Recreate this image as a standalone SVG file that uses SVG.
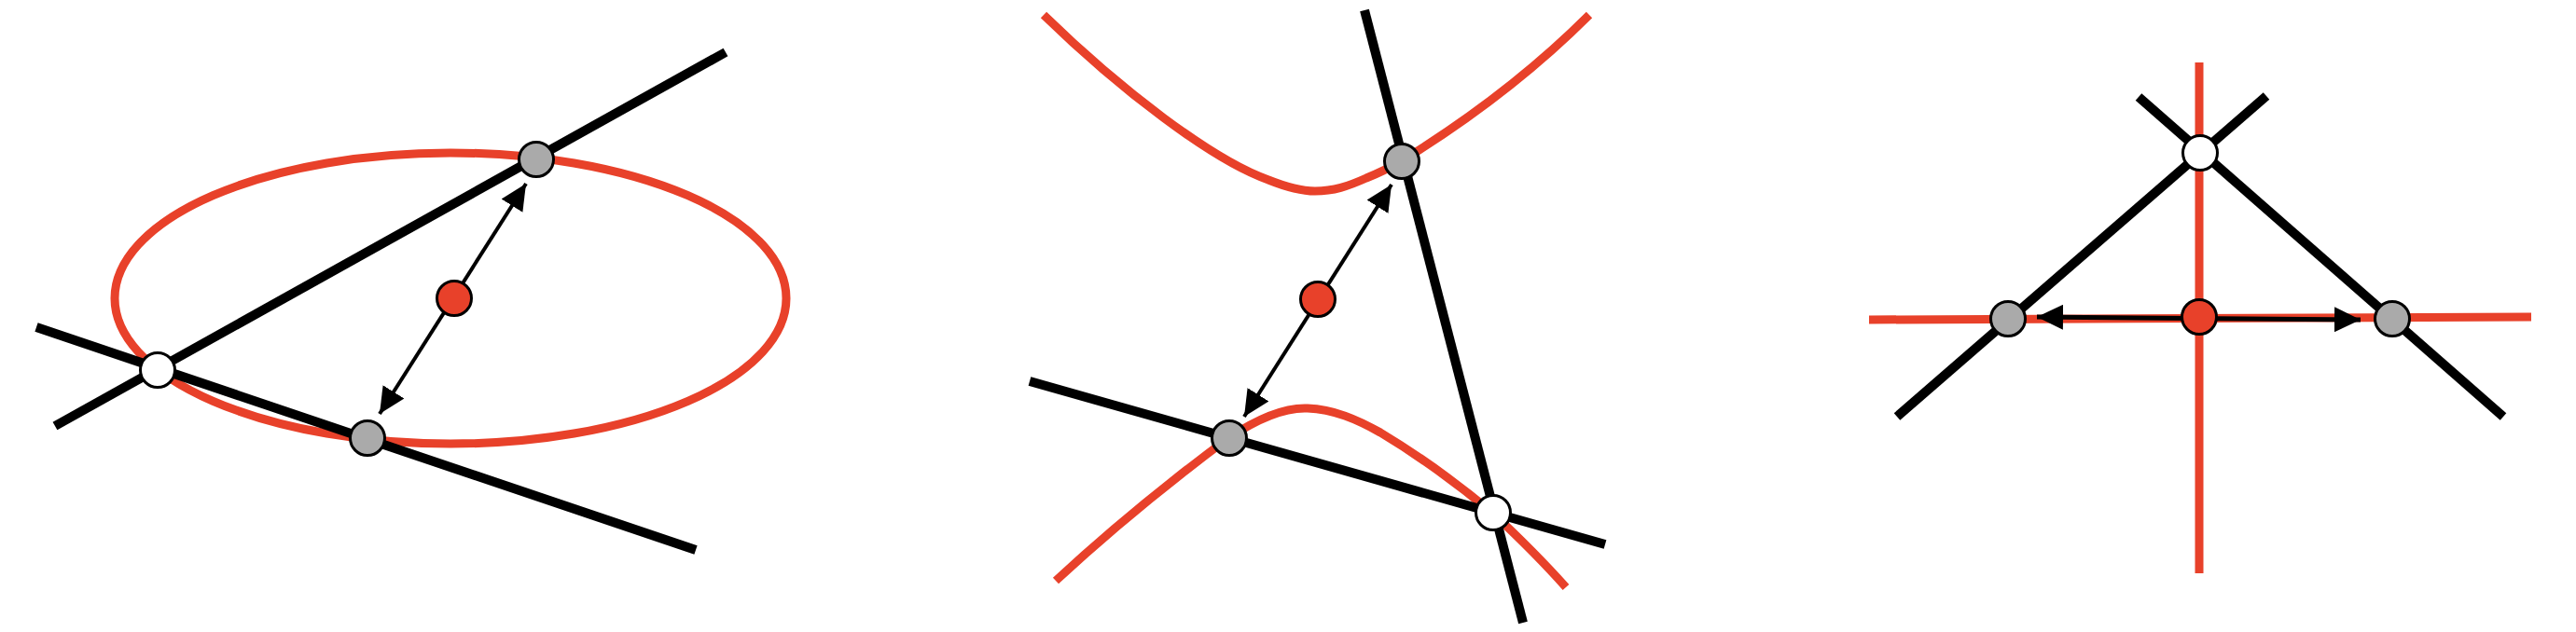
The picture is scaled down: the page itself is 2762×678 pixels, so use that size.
<svg xmlns="http://www.w3.org/2000/svg" width="2762" height="678" viewBox="0 0 2762 678">
<style>
.curve{fill:none;stroke:#E8412A;stroke-width:9}
.line{fill:none;stroke:#000;stroke-width:10;stroke-linecap:butt}
.arrow{fill:none;stroke:#000;stroke-width:4}
.arrow3{fill:none;stroke:#000;stroke-width:5}
.node{stroke:#000;stroke-width:3}
.white{fill:#fff}
.gray{fill:#aaa}
.red{fill:#E8412A}
</style>
<defs>
<marker id="ah" markerUnits="userSpaceOnUse" markerWidth="28" markerHeight="27" refX="28" refY="13.5" orient="auto-start-reverse" viewBox="0 0 28 27">
<path d="M0,0 L28,13.5 L0,27 z" fill="#000"/>
</marker>
</defs>
<rect width="2762" height="678" fill="#fff"/>
<g id="curves">
<ellipse id="conic1" class="curve" cx="483" cy="320" rx="360" ry="156"/>
<path id="conic2a" class="curve" d="M1119,16 C1200,95 1300,172 1360,193 C1380,201 1395,205 1410,205 C1430,205 1445,200 1465,191 C1480,185 1490,180 1504,172 C1580,125 1650,70 1704,16"/>
<path id="conic2b" class="curve" d="M1132,623 C1200,560 1270,505 1317,470 C1350,448 1380,437 1402,438 C1430,439 1455,450 1480,464 C1530,494 1570,525 1600,550 C1630,578 1655,603 1679,630"/>
<line id="conic3v" class="curve" x1="2358" y1="67" x2="2358" y2="615" stroke-width="10"/>
<line id="conic3h" class="curve" x1="2004" y1="343" x2="2714" y2="340" stroke-width="10"/>
</g>
<g id="connectors">
<line class="line" x1="59" y1="457" x2="778" y2="56"/>
<line class="line" x1="39" y1="351" x2="746" y2="590"/>
<line class="line" x1="1463" y1="11" x2="1633" y2="668" stroke-width="9.5"/>
<line class="line" x1="1104" y1="409" x2="1721" y2="584"/>
<line class="line" x1="2034" y1="447" x2="2430" y2="103"/>
<line class="line" x1="2293" y1="104" x2="2684" y2="447"/>
<line class="arrow" x1="407" y1="444" x2="564" y2="197" marker-start="url(#ah)" marker-end="url(#ah)"/>
<line class="arrow" x1="1334" y1="447" x2="1492" y2="198" marker-start="url(#ah)" marker-end="url(#ah)"/>
<line class="arrow3" x1="2184" y1="340" x2="2531" y2="343" marker-start="url(#ah)" marker-end="url(#ah)"/>
</g>
<g id="p1-white"><circle class="node white" cx="169" cy="397" r="18.5"/></g>
<g id="p1-gray-top"><circle class="node gray" cx="575" cy="171" r="18.5"/></g>
<g id="p1-gray-bottom"><circle class="node gray" cx="394" cy="470" r="18.5"/></g>
<g id="p1-red"><circle class="node red" cx="487" cy="320" r="18.5"/></g>
<g id="p2-white"><circle class="node white" cx="1601" cy="550" r="18.5"/></g>
<g id="p2-gray-top"><circle class="node gray" cx="1503" cy="173" r="18.5"/></g>
<g id="p2-gray-bottom"><circle class="node gray" cx="1318" cy="470" r="18.5"/></g>
<g id="p2-red"><circle class="node red" cx="1413" cy="321" r="18.5"/></g>
<g id="p3-white"><circle class="node white" cx="2359" cy="164" r="18.5"/></g>
<g id="p3-gray-left"><circle class="node gray" cx="2153" cy="342" r="18.5"/></g>
<g id="p3-gray-right"><circle class="node gray" cx="2565" cy="342" r="18.5"/></g>
<g id="p3-red"><circle class="node red" cx="2358" cy="340" r="18.5"/></g>
</svg>
